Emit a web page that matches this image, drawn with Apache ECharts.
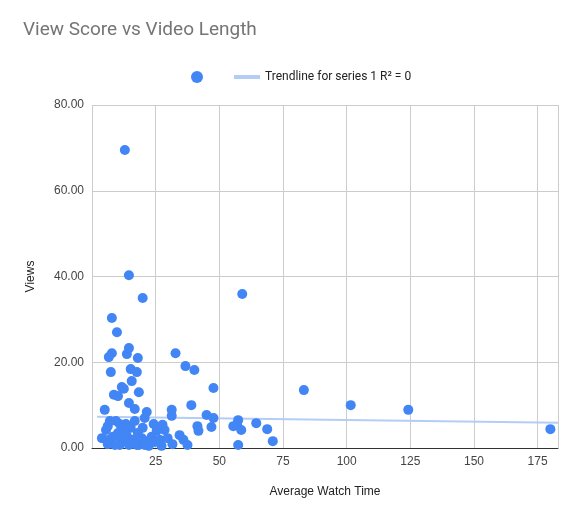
<!DOCTYPE html><html><head><meta charset="utf-8"><script src="https://cdn.jsdelivr.net/npm/echarts@6/dist/echarts.min.js"></script></head><body style="margin:0"><div id="c" style="width:585px;height:527px"></div><script>
const watchTime=[12.9,14.5,19.9,59,7.8,9.8,7.8,6.6,13.7,14.5,18,7.4,15.2,17.6,15.6,11.7,12.5,32.8,36.7,40.2,47.7,83.2,101.6,124.2,180,39,14.5,16.8,10.2,8.6,18.4,45,47.7,57.4,57,55.5,58.6,57.4,46.9,41.4,41.8,64.5,68.8,71,31.3,31.3,34.4,35.9,37.5,28.5,27.7,21.5,20.7,24.2,25.4,5,5.5,6.2,7,9.4,10.9,13.3,15.2,3.9,6.6,8.2,10.2,11.7,13.7,16,18,19.5,21.9,23.4,26.6,29.7,31.6,10.9,14.5,18.4,22.3,27.3,9,19.9,16.8,12.5,6.2,17.6,20.7,24.6];
const views=[69.5,40.3,35,35.9,30.3,27,22.1,21.2,21.9,23.3,21,17.7,18.4,17.7,15.6,14.2,13.8,22.1,19.1,18.2,14,13.5,10,8.9,4.4,10,10.5,9.1,12.1,12.4,13,7.7,7,6.5,5.4,5.1,4.2,0.7,4.9,5.1,4,5.8,4.4,1.6,8.9,7.5,3,1.9,0.7,4.2,5.4,8.4,7,5.6,4,8.9,4.2,5.1,6.3,6.3,5.6,5.6,4.7,2.3,1.9,2.6,3.5,1.9,2.8,1.9,3.5,2.3,1.6,2.6,1.9,2.3,0.9,0.7,0.7,0.7,0.5,0.5,0.7,4.7,6.3,4,0.9,0.7,0.7,1.4];
const trendX=[2,183], trendY=[7.3,5.9];
const pts=watchTime.map((x,i)=>[x,views[i]]);
const ch=echarts.init(document.getElementById('c'));
ch.setOption({
 title:{text:'View Score vs Video Length',left:18,top:16,textStyle:{color:'#757575',fontSize:19,fontWeight:'normal',fontFamily:'Roboto'}},
 legend:{top:66,left:186,itemGap:16,textStyle:{color:'#222',fontSize:12,fontFamily:'Roboto'},data:[{name:' ',icon:'circle',itemStyle:{color:'#4285F4'}},{name:'Trendline for series 1 R² = 0',icon:'path://M0,5L26,5L26,9L0,9Z'}],itemWidth:26,itemHeight:12},
 grid:{left:92,right:27,top:105,bottom:79},
 xAxis:{type:'value',min:0,max:183,interval:25,name:'Average Watch Time',nameLocation:'middle',nameGap:38,nameTextStyle:{color:'#222',fontSize:12},
  axisLine:{lineStyle:{color:'#333'}},axisTick:{show:false},axisLabel:{color:'#444',showMinLabel:false,showMaxLabel:false},splitLine:{lineStyle:{color:'#ccc'}}},
 yAxis:{type:'value',min:0,max:80,interval:20,name:'Views',nameLocation:'middle',nameGap:55,nameTextStyle:{color:'#222',fontSize:12},
  axisLabel:{color:'#444',formatter:v=>v.toFixed(2)},axisLine:{show:false},axisTick:{show:false},splitLine:{lineStyle:{color:'#ccc'}}},
 series:[
  {name:' ',type:'scatter',data:pts,symbolSize:10,itemStyle:{color:'#4285F4',opacity:1}},
  {name:'Trendline for series 1 R² = 0',type:'line',data:trendX.map((x,i)=>[x,trendY[i]]),symbol:'none',lineStyle:{color:'#b3cdf7',width:2},itemStyle:{color:'#b3cdf7'},z:1}
 ]});
</script></body></html>
